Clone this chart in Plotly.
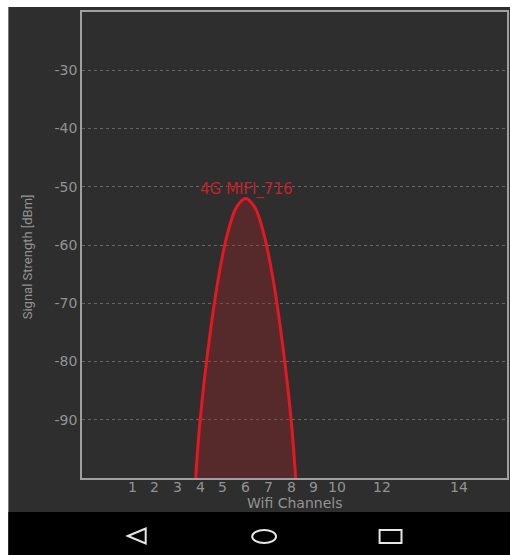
import plotly.graph_objects as go

# ---- data ----
channel_labels = ["1", "2", "3", "4", "5", "6", "7", "8", "9", "10", "12", "14"]
channel_freqs = [2412, 2417, 2422, 2427, 2432, 2437, 2442, 2447, 2452, 2457, 2467, 2484]
y_ticks = [-30, -40, -50, -60, -70, -80, -90]

network_name = "4G MIFI_716"
curve_freq = [2426, 2427, 2429, 2431, 2433, 2435, 2437, 2439, 2441, 2443, 2445, 2447, 2448]
curve_dbm = [-100, -90, -76.3, -65.7, -58.1, -53.5, -52, -53.5, -58.1, -65.7, -76.3, -90, -100]
label_freq = 2437
label_dbm = -50.5

W, H = 510, 555
L, R, T, B = 82, 509, 12, 478  # plot area in window pixels


def px(x):
    return (x - L) / (R - L)


def py(y):
    return (B - y) / (B - T)


BG = "#2e2e2e"
TICK = "#939393"
ICON = "#e6e6e6"

fig = go.Figure()
fig.add_trace(go.Scatter(
    x=curve_freq, y=curve_dbm, mode="lines",
    line=dict(color="rgb(228,24,34)", width=3, shape="spline", smoothing=1.0),
    fill="toself", fillcolor="rgba(170,30,35,0.32)",
    hoverinfo="skip", showlegend=False,
))

fig.add_annotation(x=label_freq, y=label_dbm, text=network_name, showarrow=False,
                   yanchor="middle", xanchor="center",
                   font=dict(family="DejaVu Sans", size=15, color="#c8202a"))

# x tick labels (channel numbers)
for f, lab in zip(channel_freqs, channel_labels):
    fig.add_annotation(x=f, y=py(487), xref="x", yref="paper", text=lab, showarrow=False,
                       xanchor="center", yanchor="middle",
                       font=dict(family="DejaVu Sans", size=14, color=TICK))

# axis titles
fig.add_annotation(x=px(296), y=py(503), xref="paper", yref="paper", text="Wifi Channels",
                   showarrow=False, xanchor="center", yanchor="middle",
                   font=dict(family="DejaVu Sans", size=14, color=TICK))
fig.add_annotation(x=px(27), y=py(257), xref="paper", yref="paper", text="Signal Strength [dBm]",
                   textangle=-90, showarrow=False, xanchor="center", yanchor="middle",
                   font=dict(family="Roboto", size=13, color=TICK))

shapes = [
    # white strips at the left and top edge of the screenshot
    dict(type="rect", xref="paper", yref="paper", x0=px(-5), x1=px(8), y0=py(560), y1=py(-5),
         fillcolor="#ffffff", line=dict(width=0), layer="above"),
    dict(type="rect", xref="paper", yref="paper", x0=px(-5), x1=px(515), y0=py(7), y1=py(-5),
         fillcolor="#ffffff", line=dict(width=0), layer="above"),
    # navigation bar
    dict(type="rect", xref="paper", yref="paper", x0=px(8), x1=px(520), y0=py(560), y1=py(512),
         fillcolor="#000000", line=dict(width=0), layer="above"),
    dict(type="path", xref="paper", yref="paper",
         path=f"M {px(128)} {py(536)} L {px(146)} {py(528.5)} L {px(146)} {py(543.5)} Z",
         line=dict(color=ICON, width=2), layer="above"),
    dict(type="circle", xref="paper", yref="paper", x0=px(253), x1=px(277), y0=py(543), y1=py(530),
         line=dict(color=ICON, width=2), layer="above"),
    dict(type="rect", xref="paper", yref="paper", x0=px(381), x1=px(403), y0=py(543), y1=py(530),
         line=dict(color=ICON, width=2), layer="above"),
]

fig.update_layout(
    width=W, height=H,
    margin=dict(l=L, r=W - R, t=T, b=H - B, pad=0),
    paper_bgcolor=BG, plot_bgcolor=BG,
    shapes=shapes,
    showlegend=False,
    xaxis=dict(range=[2401, 2494.5], showticklabels=False,
               showgrid=False, zeroline=False, showline=True, linecolor="#a0a0a0", linewidth=1.5,
               mirror=True, ticks="", fixedrange=True),
    yaxis=dict(range=[-100, -20], tickvals=y_ticks, ticktext=[str(v) for v in y_ticks],
               showgrid=True, gridcolor="#666666",
               griddash="dot", gridwidth=1, zeroline=False, showline=True, linecolor="#a0a0a0",
               linewidth=1.5, mirror=True, ticks="",
               tickfont=dict(family="DejaVu Sans", size=14, color=TICK), fixedrange=True),
)

# place the figure flush with the window edges
fig.write_html(
    "out.html",
    config={"responsive": False, "displayModeBar": False},
    post_script=(
        "document.documentElement.style.margin='0';"
        "document.documentElement.style.overflow='hidden';"
        "document.body.style.margin='0';"
        "document.body.style.overflow='hidden';"
        "var gd=document.getElementById('{plot_id}');"
        "Plotly.relayout(gd,{width:510,height:555});"
    ),
)
